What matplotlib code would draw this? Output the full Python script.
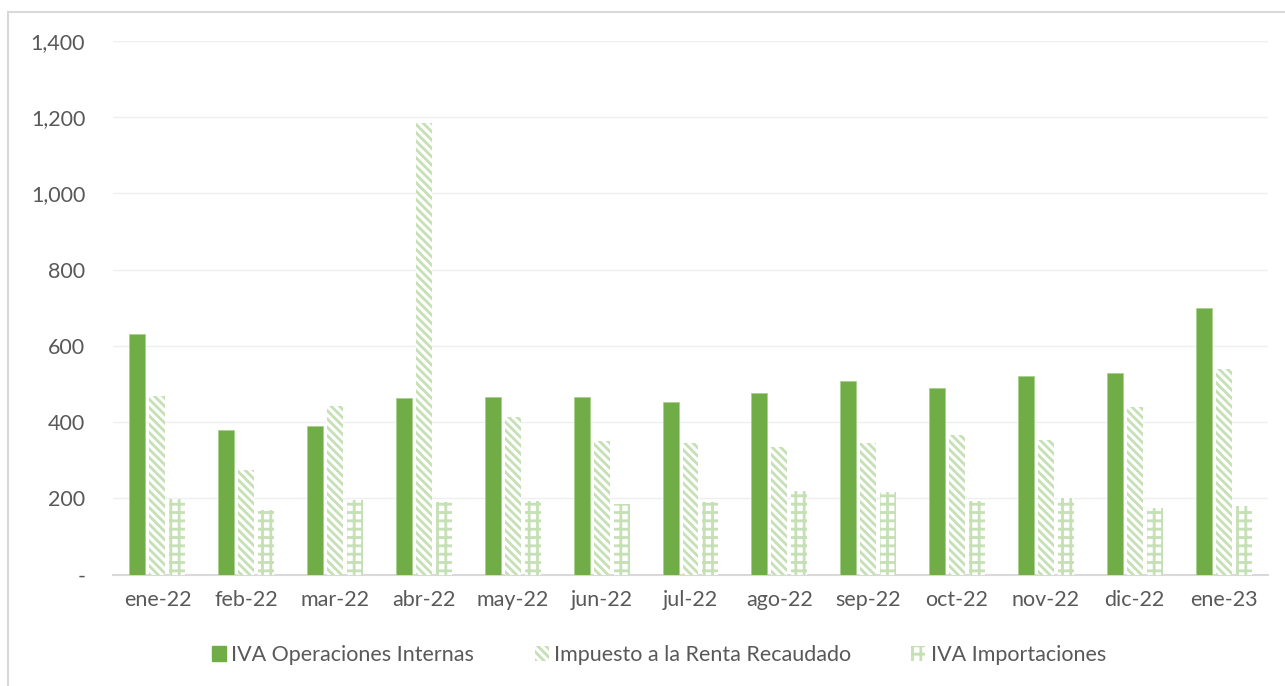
import matplotlib
matplotlib.use("Agg")
import matplotlib.pyplot as plt
import numpy as np
from matplotlib.patches import Rectangle, Patch

categories = ["ene-22", "feb-22", "mar-22", "abr-22", "may-22", "jun-22", "jul-22",
              "ago-22", "sep-22", "oct-22", "nov-22", "dic-22", "ene-23"]
iva_internas = [630, 379, 389, 463, 466, 466, 452, 476, 509, 489, 522, 529, 700]
renta = [469, 274, 442, 1186, 414, 351, 345, 334, 346, 367, 354, 439, 538]
iva_import = [197, 168, 195, 189, 193, 184, 191, 220, 216, 193, 202, 175, 181]
series_names = ["IVA Operaciones Internas", "Impuesto a la Renta Recaudado", "IVA Importaciones"]
yticks = [0, 200, 400, 600, 800, 1000, 1200, 1400]
ytick_labels = ["-", "200", "400", "600", "800", "1,000", "1,200", "1,400"]

plt.rcParams['font.family'] = ['Lato', 'DejaVu Sans']
plt.rcParams['hatch.linewidth'] = 2.0

GREEN = "#70AD47"
LIGHT = "#C5E0B4"
TXT = "#595959"
FS = 15.5

W, H = 1285, 686
fig = plt.figure(figsize=(W / 100, H / 100), dpi=100)
fig.patch.set_facecolor("white")
fig.patches.append(Rectangle((8 / W, -0.05), 1.2, 1 - 12 / H + 0.05, transform=fig.transFigure,
                             facecolor="none", edgecolor="#D9D9D9", linewidth=1.5, zorder=0))

ax = fig.add_axes([113 / W, 1 - 574.5 / H, (1268 - 113) / W, (574.5 - 41) / H])
x = np.arange(len(categories))
bw = 0.18
off = 0.225
ax.bar(x - off, iva_internas, bw, color=GREEN, edgecolor="#A9D18E", linewidth=0.6, zorder=3,
       label=series_names[0])
ax.bar(x, renta, bw, color="white", edgecolor=LIGHT, linewidth=0, hatch="\\\\\\\\", zorder=3,
       label=series_names[1])
ax.bar(x + off, iva_import, bw, color="white", edgecolor=LIGHT, linewidth=0, hatch="++", zorder=3,
       label=series_names[2])

ax.set_xlim(-0.5, len(categories) - 0.5)
ax.set_ylim(0, 1400)
ax.set_yticks(yticks)
ax.set_yticklabels(ytick_labels)
ax.set_xticks(x)
ax.set_xticklabels(categories)
ax.tick_params(axis="both", length=0, labelsize=FS, colors=TXT)
ax.tick_params(axis="y", pad=20)
ax.tick_params(axis="x", pad=11)
ax.grid(axis="y", color="#EFEFEF", linewidth=1.0, zorder=0)
ax.set_axisbelow(True)
for s in ["top", "right", "left"]:
    ax.spines[s].set_visible(False)
ax.spines["bottom"].set_color("#D9D9D9")
ax.spines["bottom"].set_linewidth(1.5)

handles = [Patch(facecolor=GREEN, edgecolor=GREEN),
           Patch(facecolor="white", edgecolor=LIGHT, linewidth=0, hatch="\\\\\\\\"),
           Patch(facecolor="white", edgecolor=LIGHT, linewidth=0, hatch="++")]
leg = fig.legend(handles, series_names, loc="center", bbox_to_anchor=(659 / W, 1 - 655 / H), ncol=3,
                 frameon=False, fontsize=FS, labelcolor=TXT, handlelength=0.65, handleheight=0.65,
                 handletextpad=0.25, columnspacing=2.8)

fig.savefig("out.png", dpi=100)
